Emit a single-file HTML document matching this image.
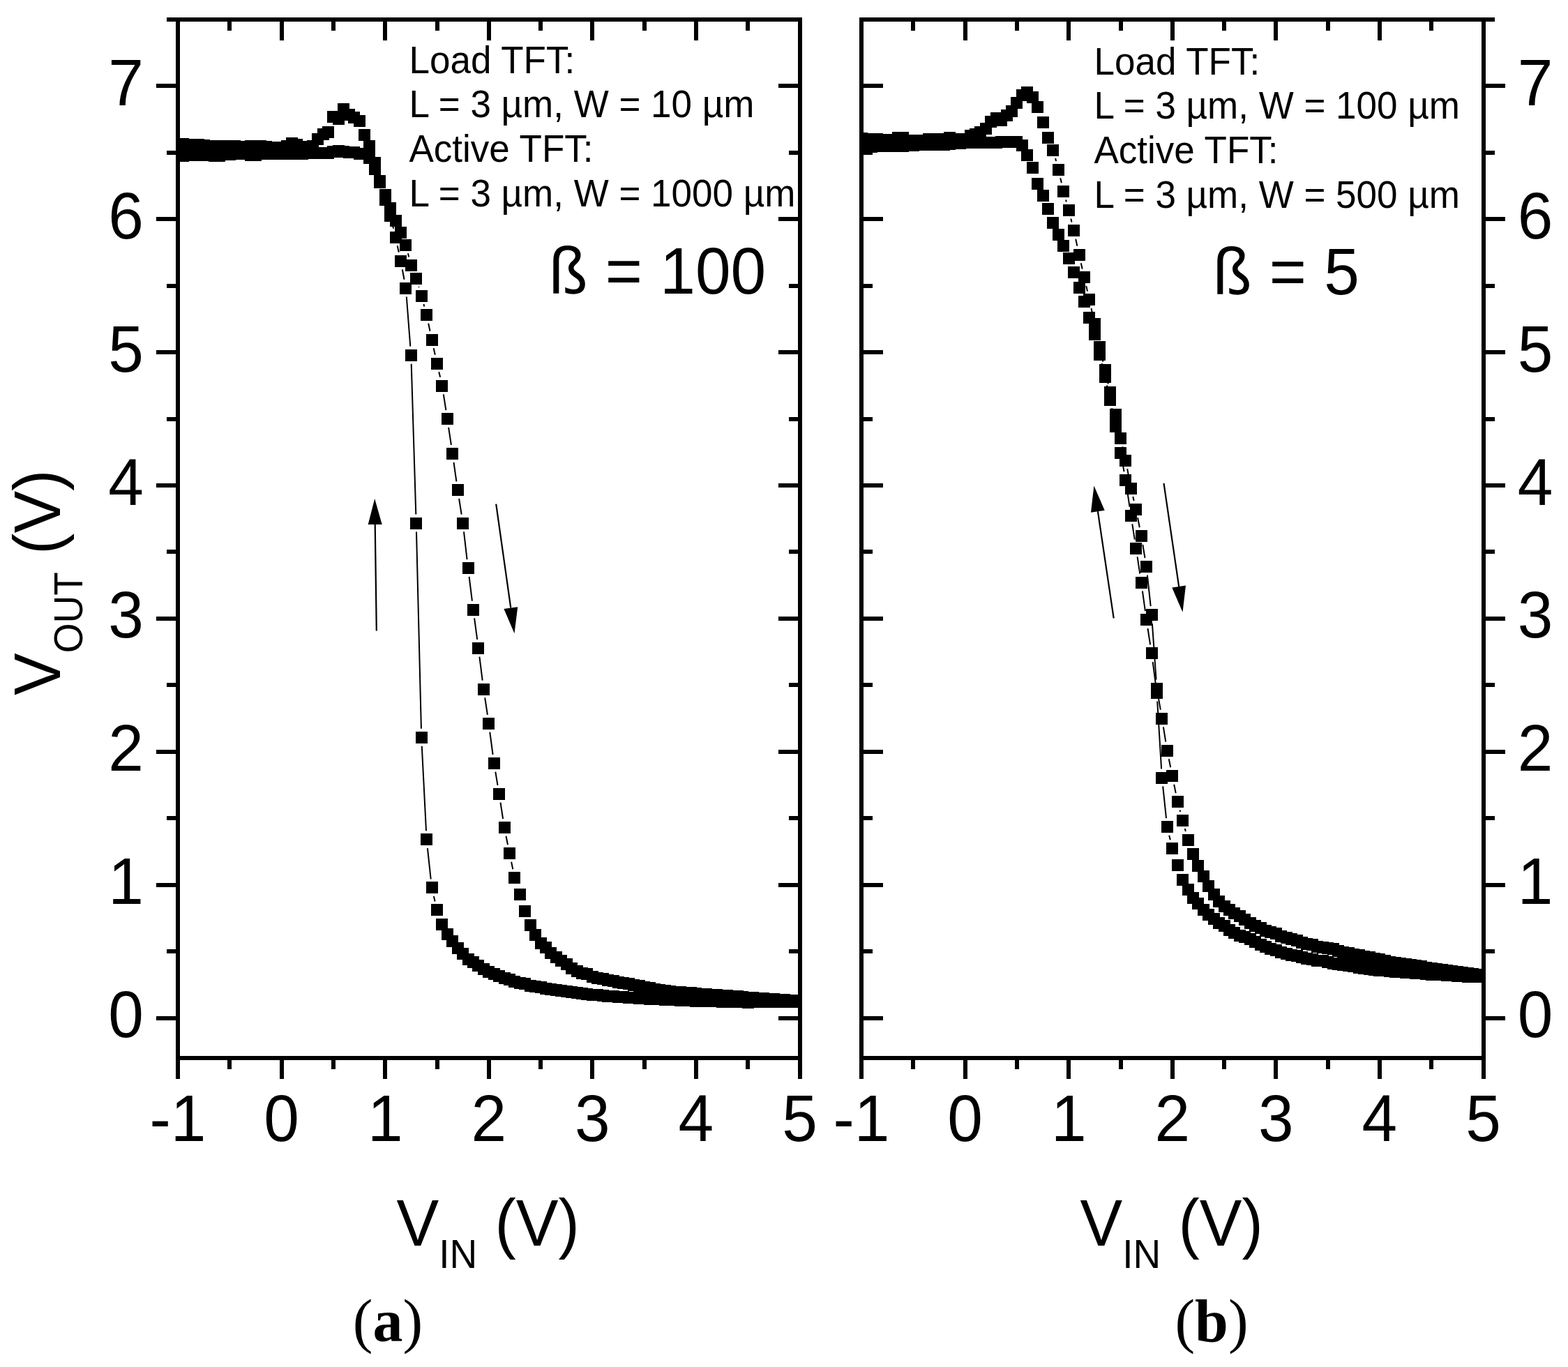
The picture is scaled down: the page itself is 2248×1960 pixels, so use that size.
<!DOCTYPE html>
<html><head><meta charset="utf-8"><title>VTC</title><style>html,body{margin:0;padding:0;background:#fff}svg{display:block}</style></head><body>
<svg width="2248" height="1960" viewBox="0 0 2248 1960">
<rect width="2248" height="1960" fill="#fff"/>
<clipPath id="clipa"><rect x="255.0" y="28" width="891.48" height="1489"/></clipPath>
<g clip-path="url(#clipa)">
<path d="M540.7 245.5L541.3 247.5M584.9 363.3L586.2 368.4M600.3 411.0L600.6 412.0M607.4 436.1L608.3 439.4M614.2 463.7L616.5 474.8M621.7 499.2L623.8 508.8M629.3 533.2L631.1 540.8M635.8 565.3L639.4 588.2M643.1 612.9L646.9 638.0M650.5 662.8L654.4 690.3M658.1 715.0L661.7 737.7M665.0 762.4L669.6 802.1M672.6 826.9L676.9 861.6M680.1 886.4L684.2 916.8M687.4 941.6L691.7 975.6M695.2 1000.4L698.9 1024.8M702.3 1049.6L706.6 1082.0M710.3 1106.7L713.5 1125.9M717.5 1150.6L721.1 1174.0M725.5 1198.7L728.0 1211.2M733.1 1235.7L735.3 1246.2" fill="none" stroke="#000" stroke-width="2"/>
<path d="M548.3 273.0L548.6 274.0M562.5 321.2L564.1 327.8M569.7 352.2L571.8 361.8M576.8 386.3L579.5 400.7M582.8 425.5L588.3 496.7M589.7 521.7L596.3 737.5M597.0 762.5L603.9 1044.8M604.8 1069.8L611.0 1191.2M612.9 1216.1L617.7 1260.5M621.9 1285.1L623.6 1292.4" fill="none" stroke="#000" stroke-width="2"/>
<path d="M246.5 197.7h17.0v17.0h-17.0zM253.9 197.5h17.0v17.0h-17.0zM261.4 198.5h17.0v17.0h-17.0zM268.8 199.3h17.0v17.0h-17.0zM276.2 199.3h17.0v17.0h-17.0zM283.6 200.0h17.0v17.0h-17.0zM291.1 201.3h17.0v17.0h-17.0zM298.5 201.3h17.0v17.0h-17.0zM305.9 201.3h17.0v17.0h-17.0zM313.4 201.3h17.0v17.0h-17.0zM320.8 201.3h17.0v17.0h-17.0zM328.2 201.3h17.0v17.0h-17.0zM335.6 202.2h17.0v17.0h-17.0zM343.1 202.0h17.0v17.0h-17.0zM350.5 201.3h17.0v17.0h-17.0zM357.9 201.3h17.0v17.0h-17.0zM365.4 201.3h17.0v17.0h-17.0zM372.8 202.0h17.0v17.0h-17.0zM380.2 204.3h17.0v17.0h-17.0zM387.7 203.3h17.0v17.0h-17.0zM395.1 203.3h17.0v17.0h-17.0zM402.5 200.5h17.0v17.0h-17.0zM409.9 197.2h17.0v17.0h-17.0zM417.4 199.3h17.0v17.0h-17.0zM424.8 203.2h17.0v17.0h-17.0zM432.2 202.0h17.0v17.0h-17.0zM439.7 201.0h17.0v17.0h-17.0zM447.1 191.0h17.0v17.0h-17.0zM454.5 184.1h17.0v17.0h-17.0zM461.9 181.0h17.0v17.0h-17.0zM469.4 159.1h17.0v17.0h-17.0zM476.8 161.8h17.0v17.0h-17.0zM484.2 148.0h17.0v17.0h-17.0zM491.7 155.5h17.0v17.0h-17.0zM499.1 159.8h17.0v17.0h-17.0zM506.5 164.8h17.0v17.0h-17.0zM513.9 184.9h17.0v17.0h-17.0zM521.4 201.1h17.0v17.0h-17.0zM528.8 225.0h17.0v17.0h-17.0zM536.2 251.0h17.0v17.0h-17.0zM543.7 271.0h17.0v17.0h-17.0zM551.1 289.8h17.0v17.0h-17.0zM558.5 307.9h17.0v17.0h-17.0zM565.9 324.9h17.0v17.0h-17.0zM573.4 342.7h17.0v17.0h-17.0zM580.8 372.0h17.0v17.0h-17.0zM588.2 390.5h17.0v17.0h-17.0zM595.7 415.5h17.0v17.0h-17.0zM603.1 443.0h17.0v17.0h-17.0zM610.5 478.5h17.0v17.0h-17.0zM618.0 512.5h17.0v17.0h-17.0zM625.4 544.5h17.0v17.0h-17.0zM632.8 592.0h17.0v17.0h-17.0zM640.2 641.9h17.0v17.0h-17.0zM647.7 694.2h17.0v17.0h-17.0zM655.1 741.5h17.0v17.0h-17.0zM662.5 806.0h17.0v17.0h-17.0zM670.0 865.5h17.0v17.0h-17.0zM677.4 920.7h17.0v17.0h-17.0zM684.8 979.5h17.0v17.0h-17.0zM692.2 1028.7h17.0v17.0h-17.0zM699.7 1085.9h17.0v17.0h-17.0zM707.1 1129.7h17.0v17.0h-17.0zM714.5 1177.9h17.0v17.0h-17.0zM722.0 1215.0h17.0v17.0h-17.0zM729.4 1249.9h17.0v17.0h-17.0zM736.8 1274.1h17.0v17.0h-17.0zM744.2 1297.9h17.0v17.0h-17.0zM751.7 1317.5h17.0v17.0h-17.0zM759.1 1332.3h17.0v17.0h-17.0zM766.5 1344.1h17.0v17.0h-17.0zM774.0 1350.1h17.0v17.0h-17.0zM781.4 1358.1h17.0v17.0h-17.0zM788.8 1363.9h17.0v17.0h-17.0zM796.2 1369.2h17.0v17.0h-17.0zM803.7 1374.1h17.0v17.0h-17.0zM811.1 1380.2h17.0v17.0h-17.0zM818.5 1384.1h17.0v17.0h-17.0zM826.0 1387.2h17.0v17.0h-17.0zM833.4 1388.1h17.0v17.0h-17.0zM840.8 1392.2h17.0v17.0h-17.0zM848.2 1394.0h17.0v17.0h-17.0zM855.7 1395.4h17.0v17.0h-17.0zM863.1 1396.8h17.0v17.0h-17.0zM870.5 1398.2h17.0v17.0h-17.0zM878.0 1399.6h17.0v17.0h-17.0zM885.4 1401.0h17.0v17.0h-17.0zM892.8 1402.4h17.0v17.0h-17.0zM900.3 1403.8h17.0v17.0h-17.0zM907.7 1405.3h17.0v17.0h-17.0zM915.1 1406.8h17.0v17.0h-17.0zM922.5 1408.2h17.0v17.0h-17.0zM930.0 1409.7h17.0v17.0h-17.0zM937.4 1411.1h17.0v17.0h-17.0zM944.8 1412.2h17.0v17.0h-17.0zM952.3 1412.9h17.0v17.0h-17.0zM959.7 1413.5h17.0v17.0h-17.0zM967.1 1414.1h17.0v17.0h-17.0zM974.5 1414.7h17.0v17.0h-17.0zM982.0 1415.3h17.0v17.0h-17.0zM989.4 1416.0h17.0v17.0h-17.0zM996.8 1416.5h17.0v17.0h-17.0zM1004.3 1417.1h17.0v17.0h-17.0zM1011.7 1417.6h17.0v17.0h-17.0zM1019.1 1418.2h17.0v17.0h-17.0zM1026.5 1418.7h17.0v17.0h-17.0zM1034.0 1419.3h17.0v17.0h-17.0zM1041.4 1419.8h17.0v17.0h-17.0zM1048.8 1420.4h17.0v17.0h-17.0zM1056.3 1420.9h17.0v17.0h-17.0zM1063.7 1421.5h17.0v17.0h-17.0zM1071.1 1422.0h17.0v17.0h-17.0zM1078.5 1422.5h17.0v17.0h-17.0zM1086.0 1423.0h17.0v17.0h-17.0zM1093.4 1423.5h17.0v17.0h-17.0zM1100.8 1424.0h17.0v17.0h-17.0zM1108.3 1424.5h17.0v17.0h-17.0zM1115.7 1425.0h17.0v17.0h-17.0zM1123.1 1425.5h17.0v17.0h-17.0zM1130.6 1426.0h17.0v17.0h-17.0zM1138.0 1426.5h17.0v17.0h-17.0z" fill="#000" shape-rendering="crispEdges"/>
<path d="M246.5 214.8h17.0v17.0h-17.0zM253.9 214.8h17.0v17.0h-17.0zM261.4 213.8h17.0v17.0h-17.0zM268.8 213.8h17.0v17.0h-17.0zM276.2 213.8h17.0v17.0h-17.0zM283.6 213.8h17.0v17.0h-17.0zM291.1 214.0h17.0v17.0h-17.0zM298.5 214.8h17.0v17.0h-17.0zM305.9 214.8h17.0v17.0h-17.0zM313.4 212.5h17.0v17.0h-17.0zM320.8 212.5h17.0v17.0h-17.0zM328.2 211.7h17.0v17.0h-17.0zM335.6 211.7h17.0v17.0h-17.0zM343.1 211.7h17.0v17.0h-17.0zM350.5 213.7h17.0v17.0h-17.0zM357.9 213.7h17.0v17.0h-17.0zM365.4 211.7h17.0v17.0h-17.0zM372.8 210.7h17.0v17.0h-17.0zM380.2 211.7h17.0v17.0h-17.0zM387.7 211.7h17.0v17.0h-17.0zM395.1 211.7h17.0v17.0h-17.0zM402.5 211.7h17.0v17.0h-17.0zM409.9 211.7h17.0v17.0h-17.0zM417.4 211.7h17.0v17.0h-17.0zM424.8 211.7h17.0v17.0h-17.0zM432.2 209.8h17.0v17.0h-17.0zM439.7 210.7h17.0v17.0h-17.0zM447.1 210.7h17.0v17.0h-17.0zM454.5 210.7h17.0v17.0h-17.0zM461.9 210.7h17.0v17.0h-17.0zM469.4 209.0h17.0v17.0h-17.0zM476.8 207.5h17.0v17.0h-17.0zM484.2 208.5h17.0v17.0h-17.0zM491.7 209.8h17.0v17.0h-17.0zM499.1 209.8h17.0v17.0h-17.0zM506.5 211.7h17.0v17.0h-17.0zM513.9 211.7h17.0v17.0h-17.0zM521.4 217.5h17.0v17.0h-17.0zM528.8 233.5h17.0v17.0h-17.0zM536.2 252.5h17.0v17.0h-17.0zM543.7 277.5h17.0v17.0h-17.0zM551.1 300.5h17.0v17.0h-17.0zM558.5 331.5h17.0v17.0h-17.0zM565.9 365.5h17.0v17.0h-17.0zM573.4 404.5h17.0v17.0h-17.0zM580.8 500.7h17.0v17.0h-17.0zM588.2 741.5h17.0v17.0h-17.0zM595.7 1048.8h17.0v17.0h-17.0zM603.1 1195.2h17.0v17.0h-17.0zM610.5 1264.4h17.0v17.0h-17.0zM618.0 1296.1h17.0v17.0h-17.0zM625.4 1316.5h17.0v17.0h-17.0zM632.8 1331.1h17.0v17.0h-17.0zM640.2 1341.0h17.0v17.0h-17.0zM647.7 1351.0h17.0v17.0h-17.0zM655.1 1359.1h17.0v17.0h-17.0zM662.5 1367.1h17.0v17.0h-17.0zM670.0 1371.2h17.0v17.0h-17.0zM677.4 1376.2h17.0v17.0h-17.0zM684.8 1381.1h17.0v17.0h-17.0zM692.2 1385.2h17.0v17.0h-17.0zM699.7 1388.1h17.0v17.0h-17.0zM707.1 1391.1h17.0v17.0h-17.0zM714.5 1394.2h17.0v17.0h-17.0zM722.0 1396.3h17.0v17.0h-17.0zM729.4 1399.2h17.0v17.0h-17.0zM736.8 1401.0h17.0v17.0h-17.0zM744.2 1402.4h17.0v17.0h-17.0zM751.7 1404.5h17.0v17.0h-17.0zM759.1 1405.9h17.0v17.0h-17.0zM766.5 1407.4h17.0v17.0h-17.0zM774.0 1408.7h17.0v17.0h-17.0zM781.4 1409.8h17.0v17.0h-17.0zM788.8 1410.9h17.0v17.0h-17.0zM796.2 1412.0h17.0v17.0h-17.0zM803.7 1413.0h17.0v17.0h-17.0zM811.1 1413.9h17.0v17.0h-17.0zM818.5 1414.9h17.0v17.0h-17.0zM826.0 1415.8h17.0v17.0h-17.0zM833.4 1416.8h17.0v17.0h-17.0zM840.8 1417.6h17.0v17.0h-17.0zM848.2 1418.2h17.0v17.0h-17.0zM855.7 1418.9h17.0v17.0h-17.0zM863.1 1419.5h17.0v17.0h-17.0zM870.5 1420.1h17.0v17.0h-17.0zM878.0 1420.7h17.0v17.0h-17.0zM885.4 1421.3h17.0v17.0h-17.0zM892.8 1421.9h17.0v17.0h-17.0zM900.3 1422.3h17.0v17.0h-17.0zM907.7 1422.7h17.0v17.0h-17.0zM915.1 1423.1h17.0v17.0h-17.0zM922.5 1423.5h17.0v17.0h-17.0zM930.0 1423.9h17.0v17.0h-17.0zM937.4 1424.3h17.0v17.0h-17.0zM944.8 1424.6h17.0v17.0h-17.0zM952.3 1425.0h17.0v17.0h-17.0zM959.7 1425.3h17.0v17.0h-17.0zM967.1 1425.7h17.0v17.0h-17.0zM974.5 1426.0h17.0v17.0h-17.0zM982.0 1426.3h17.0v17.0h-17.0zM989.4 1426.7h17.0v17.0h-17.0zM996.8 1426.9h17.0v17.0h-17.0zM1004.3 1427.1h17.0v17.0h-17.0zM1011.7 1427.3h17.0v17.0h-17.0zM1019.1 1427.4h17.0v17.0h-17.0zM1026.5 1427.6h17.0v17.0h-17.0zM1034.0 1427.8h17.0v17.0h-17.0zM1041.4 1428.0h17.0v17.0h-17.0zM1048.8 1428.1h17.0v17.0h-17.0zM1056.3 1428.3h17.0v17.0h-17.0zM1063.7 1428.5h17.0v17.0h-17.0zM1071.1 1428.4h17.0v17.0h-17.0zM1078.5 1428.3h17.0v17.0h-17.0zM1086.0 1428.2h17.0v17.0h-17.0zM1093.4 1428.1h17.0v17.0h-17.0zM1100.8 1428.0h17.0v17.0h-17.0zM1108.3 1427.9h17.0v17.0h-17.0zM1115.7 1427.8h17.0v17.0h-17.0zM1123.1 1427.7h17.0v17.0h-17.0zM1130.6 1427.6h17.0v17.0h-17.0zM1138.0 1427.5h17.0v17.0h-17.0z" fill="#000" shape-rendering="crispEdges"/>
</g>
<clipPath id="clipb"><rect x="1235.0" y="28" width="891.48" height="1489"/></clipPath>
<g clip-path="url(#clipb)">
<path d="M1513.1 227.1L1514.1 230.9M1520.2 255.2L1521.9 262.2M1528.0 286.5L1528.9 289.4M1535.3 313.6L1536.5 318.4M1542.2 342.7L1544.4 352.8M1549.8 377.2L1551.7 385.6M1557.3 410.0L1559.0 417.6M1564.5 442.0L1566.7 452.6M1572.1 477.0L1574.0 485.6M1579.5 510.0L1581.4 518.6M1587.0 543.0L1588.8 550.5M1594.5 574.9L1596.1 581.8M1601.7 606.2L1603.8 615.8M1609.3 640.2L1611.1 647.8M1616.2 672.3L1619.0 687.7M1624.3 712.1L1625.7 717.9M1631.1 742.3L1633.8 756.3M1638.3 780.9L1641.5 800.0M1644.9 824.7L1649.7 869.2M1651.9 894.1L1657.6 974.5M1660.6 999.3L1663.8 1017.7M1667.9 1042.3L1671.3 1063.7M1675.8 1088.2L1678.2 1100.3M1683.2 1124.8L1685.7 1137.1M1691.5 1161.4L1692.2 1164.0M1698.8 1188.1L1699.8 1191.9" fill="none" stroke="#000" stroke-width="2"/>
<path d="M1572.3 491.1L1573.7 496.6M1579.6 520.9L1581.3 528.1M1586.9 552.5L1588.8 560.8M1594.0 585.3L1596.7 599.2M1601.5 623.8L1604.0 636.7M1608.8 661.3L1611.6 676.3M1615.7 701.0L1619.5 726.6M1623.3 751.3L1626.8 773.7M1630.6 798.4L1634.3 822.6M1637.9 847.4L1641.9 876.2M1645.5 901.0L1649.1 924.3M1652.7 949.1L1656.8 980.6M1659.2 1005.5L1665.1 1102.5M1667.2 1127.4L1672.0 1173.1M1676.2 1197.7L1677.8 1204.2" fill="none" stroke="#000" stroke-width="2"/>
<path d="M1226.5 190.3h17.0v17.0h-17.0zM1233.9 190.5h17.0v17.0h-17.0zM1241.4 191.2h17.0v17.0h-17.0zM1248.8 191.2h17.0v17.0h-17.0zM1256.2 191.5h17.0v17.0h-17.0zM1263.6 192.2h17.0v17.0h-17.0zM1271.1 192.2h17.0v17.0h-17.0zM1278.5 189.2h17.0v17.0h-17.0zM1285.9 189.2h17.0v17.0h-17.0zM1293.4 194.2h17.0v17.0h-17.0zM1300.8 193.2h17.0v17.0h-17.0zM1308.2 193.2h17.0v17.0h-17.0zM1315.6 193.2h17.0v17.0h-17.0zM1323.1 191.2h17.0v17.0h-17.0zM1330.5 191.2h17.0v17.0h-17.0zM1337.9 191.2h17.0v17.0h-17.0zM1345.4 190.5h17.0v17.0h-17.0zM1352.8 189.2h17.0v17.0h-17.0zM1360.2 191.2h17.0v17.0h-17.0zM1367.7 191.2h17.0v17.0h-17.0zM1375.1 191.0h17.0v17.0h-17.0zM1382.5 186.3h17.0v17.0h-17.0zM1389.9 183.5h17.0v17.0h-17.0zM1397.4 181.2h17.0v17.0h-17.0zM1404.8 176.4h17.0v17.0h-17.0zM1412.2 166.2h17.0v17.0h-17.0zM1419.7 161.4h17.0v17.0h-17.0zM1427.1 163.5h17.0v17.0h-17.0zM1434.5 157.3h17.0v17.0h-17.0zM1441.9 151.4h17.0v17.0h-17.0zM1449.4 139.3h17.0v17.0h-17.0zM1456.8 128.4h17.0v17.0h-17.0zM1464.2 124.3h17.0v17.0h-17.0zM1471.7 131.4h17.0v17.0h-17.0zM1479.1 145.2h17.0v17.0h-17.0zM1486.5 167.4h17.0v17.0h-17.0zM1493.9 188.5h17.0v17.0h-17.0zM1501.4 206.5h17.0v17.0h-17.0zM1508.8 234.5h17.0v17.0h-17.0zM1516.2 265.9h17.0v17.0h-17.0zM1523.7 293.0h17.0v17.0h-17.0zM1531.1 322.0h17.0v17.0h-17.0zM1538.5 356.5h17.0v17.0h-17.0zM1545.9 389.3h17.0v17.0h-17.0zM1553.4 421.3h17.0v17.0h-17.0zM1560.8 456.3h17.0v17.0h-17.0zM1568.2 489.3h17.0v17.0h-17.0zM1575.7 522.3h17.0v17.0h-17.0zM1583.1 554.2h17.0v17.0h-17.0zM1590.5 585.5h17.0v17.0h-17.0zM1598.0 619.5h17.0v17.0h-17.0zM1605.4 651.5h17.0v17.0h-17.0zM1612.8 691.5h17.0v17.0h-17.0zM1620.2 721.5h17.0v17.0h-17.0zM1627.7 760.1h17.0v17.0h-17.0zM1635.1 803.8h17.0v17.0h-17.0zM1642.5 873.1h17.0v17.0h-17.0zM1650.0 978.5h17.0v17.0h-17.0zM1657.4 1021.5h17.0v17.0h-17.0zM1664.8 1067.5h17.0v17.0h-17.0zM1672.2 1104.0h17.0v17.0h-17.0zM1679.7 1140.9h17.0v17.0h-17.0zM1687.1 1167.5h17.0v17.0h-17.0zM1694.5 1195.5h17.0v17.0h-17.0zM1702.0 1215.5h17.0v17.0h-17.0zM1709.4 1233.3h17.0v17.0h-17.0zM1716.8 1248.1h17.0v17.0h-17.0zM1724.2 1262.4h17.0v17.0h-17.0zM1731.7 1274.3h17.0v17.0h-17.0zM1739.1 1284.2h17.0v17.0h-17.0zM1746.5 1291.4h17.0v17.0h-17.0zM1754.0 1296.3h17.0v17.0h-17.0zM1761.4 1301.3h17.0v17.0h-17.0zM1768.8 1305.2h17.0v17.0h-17.0zM1776.2 1310.3h17.0v17.0h-17.0zM1783.7 1315.3h17.0v17.0h-17.0zM1791.1 1319.3h17.0v17.0h-17.0zM1798.5 1322.3h17.0v17.0h-17.0zM1806.0 1326.2h17.0v17.0h-17.0zM1813.4 1328.2h17.0v17.0h-17.0zM1820.8 1330.3h17.0v17.0h-17.0zM1828.2 1334.3h17.0v17.0h-17.0zM1835.7 1336.1h17.0v17.0h-17.0zM1843.1 1338.1h17.0v17.0h-17.0zM1850.5 1340.2h17.0v17.0h-17.0zM1858.0 1343.1h17.0v17.0h-17.0zM1865.4 1345.1h17.0v17.0h-17.0zM1872.8 1346.3h17.0v17.0h-17.0zM1880.3 1349.3h17.0v17.0h-17.0zM1887.7 1350.3h17.0v17.0h-17.0zM1895.1 1351.2h17.0v17.0h-17.0zM1902.5 1352.1h17.0v17.0h-17.0zM1910.0 1354.7h17.0v17.0h-17.0zM1917.4 1356.5h17.0v17.0h-17.0zM1924.8 1358.1h17.0v17.0h-17.0zM1932.3 1359.6h17.0v17.0h-17.0zM1939.7 1361.2h17.0v17.0h-17.0zM1947.1 1362.7h17.0v17.0h-17.0zM1954.5 1364.3h17.0v17.0h-17.0zM1962.0 1365.9h17.0v17.0h-17.0zM1969.4 1367.4h17.0v17.0h-17.0zM1976.8 1369.0h17.0v17.0h-17.0zM1984.3 1370.5h17.0v17.0h-17.0zM1991.7 1372.1h17.0v17.0h-17.0zM1999.1 1373.2h17.0v17.0h-17.0zM2006.5 1374.2h17.0v17.0h-17.0zM2014.0 1375.3h17.0v17.0h-17.0zM2021.4 1376.3h17.0v17.0h-17.0zM2028.8 1377.4h17.0v17.0h-17.0zM2036.3 1378.5h17.0v17.0h-17.0zM2043.7 1379.5h17.0v17.0h-17.0zM2051.1 1380.5h17.0v17.0h-17.0zM2058.5 1381.6h17.0v17.0h-17.0zM2066.0 1382.6h17.0v17.0h-17.0zM2073.4 1383.6h17.0v17.0h-17.0zM2080.8 1384.7h17.0v17.0h-17.0zM2088.3 1385.7h17.0v17.0h-17.0zM2095.7 1386.8h17.0v17.0h-17.0zM2103.1 1388.0h17.0v17.0h-17.0zM2110.6 1389.3h17.0v17.0h-17.0zM2118.0 1390.5h17.0v17.0h-17.0z" fill="#000" shape-rendering="crispEdges"/>
<path d="M1226.5 203.8h17.0v17.0h-17.0zM1233.9 202.7h17.0v17.0h-17.0zM1241.4 201.7h17.0v17.0h-17.0zM1248.8 200.7h17.0v17.0h-17.0zM1256.2 200.7h17.0v17.0h-17.0zM1263.6 200.7h17.0v17.0h-17.0zM1271.1 200.7h17.0v17.0h-17.0zM1278.5 200.7h17.0v17.0h-17.0zM1285.9 200.7h17.0v17.0h-17.0zM1293.4 200.2h17.0v17.0h-17.0zM1300.8 199.7h17.0v17.0h-17.0zM1308.2 199.4h17.0v17.0h-17.0zM1315.6 199.1h17.0v17.0h-17.0zM1323.1 198.8h17.0v17.0h-17.0zM1330.5 198.8h17.0v17.0h-17.0zM1337.9 198.8h17.0v17.0h-17.0zM1345.4 198.8h17.0v17.0h-17.0zM1352.8 197.9h17.0v17.0h-17.0zM1360.2 197.0h17.0v17.0h-17.0zM1367.7 196.5h17.0v17.0h-17.0zM1375.1 196.0h17.0v17.0h-17.0zM1382.5 196.0h17.0v17.0h-17.0zM1389.9 196.0h17.0v17.0h-17.0zM1397.4 195.9h17.0v17.0h-17.0zM1404.8 195.8h17.0v17.0h-17.0zM1412.2 195.7h17.0v17.0h-17.0zM1419.7 195.5h17.0v17.0h-17.0zM1427.1 195.2h17.0v17.0h-17.0zM1434.5 195.0h17.0v17.0h-17.0zM1441.9 194.5h17.0v17.0h-17.0zM1449.4 194.5h17.0v17.0h-17.0zM1456.8 200.0h17.0v17.0h-17.0zM1464.2 213.5h17.0v17.0h-17.0zM1471.7 232.0h17.0v17.0h-17.0zM1479.1 254.9h17.0v17.0h-17.0zM1486.5 272.1h17.0v17.0h-17.0zM1493.9 290.5h17.0v17.0h-17.0zM1501.4 310.9h17.0v17.0h-17.0zM1508.8 328.3h17.0v17.0h-17.0zM1516.2 344.3h17.0v17.0h-17.0zM1523.7 361.9h17.0v17.0h-17.0zM1531.1 381.9h17.0v17.0h-17.0zM1538.5 404.3h17.0v17.0h-17.0zM1545.9 423.7h17.0v17.0h-17.0zM1553.4 447.3h17.0v17.0h-17.0zM1560.8 470.5h17.0v17.0h-17.0zM1568.2 500.2h17.0v17.0h-17.0zM1575.7 531.8h17.0v17.0h-17.0zM1583.1 564.5h17.0v17.0h-17.0zM1590.5 603.0h17.0v17.0h-17.0zM1598.0 640.5h17.0v17.0h-17.0zM1605.4 680.1h17.0v17.0h-17.0zM1612.8 730.5h17.0v17.0h-17.0zM1620.2 777.5h17.0v17.0h-17.0zM1627.7 826.5h17.0v17.0h-17.0zM1635.1 880.1h17.0v17.0h-17.0zM1642.5 928.2h17.0v17.0h-17.0zM1650.0 984.5h17.0v17.0h-17.0zM1657.4 1106.5h17.0v17.0h-17.0zM1664.8 1177.0h17.0v17.0h-17.0zM1672.2 1207.9h17.0v17.0h-17.0zM1679.7 1231.9h17.0v17.0h-17.0zM1687.1 1252.9h17.0v17.0h-17.0zM1694.5 1266.5h17.0v17.0h-17.0zM1702.0 1278.5h17.0v17.0h-17.0zM1709.4 1286.5h17.0v17.0h-17.0zM1716.8 1295.5h17.0v17.0h-17.0zM1724.2 1302.5h17.0v17.0h-17.0zM1731.7 1308.7h17.0v17.0h-17.0zM1739.1 1314.5h17.0v17.0h-17.0zM1746.5 1319.4h17.0v17.0h-17.0zM1754.0 1324.5h17.0v17.0h-17.0zM1761.4 1329.4h17.0v17.0h-17.0zM1768.8 1332.5h17.0v17.0h-17.0zM1776.2 1335.4h17.0v17.0h-17.0zM1783.7 1337.5h17.0v17.0h-17.0zM1791.1 1342.4h17.0v17.0h-17.0zM1798.5 1345.5h17.0v17.0h-17.0zM1806.0 1348.5h17.0v17.0h-17.0zM1813.4 1352.4h17.0v17.0h-17.0zM1820.8 1353.5h17.0v17.0h-17.0zM1828.2 1356.5h17.0v17.0h-17.0zM1835.7 1358.5h17.0v17.0h-17.0zM1843.1 1360.5h17.0v17.0h-17.0zM1850.5 1362.4h17.0v17.0h-17.0zM1858.0 1363.5h17.0v17.0h-17.0zM1865.4 1365.5h17.0v17.0h-17.0zM1872.8 1366.7h17.0v17.0h-17.0zM1880.3 1368.5h17.0v17.0h-17.0zM1887.7 1369.4h17.0v17.0h-17.0zM1895.1 1370.5h17.0v17.0h-17.0zM1902.5 1372.5h17.0v17.0h-17.0zM1910.0 1373.7h17.0v17.0h-17.0zM1917.4 1374.7h17.0v17.0h-17.0zM1924.8 1375.5h17.0v17.0h-17.0zM1932.3 1377.2h17.0v17.0h-17.0zM1939.7 1379.0h17.0v17.0h-17.0zM1947.1 1380.2h17.0v17.0h-17.0zM1954.5 1380.9h17.0v17.0h-17.0zM1962.0 1381.7h17.0v17.0h-17.0zM1969.4 1382.5h17.0v17.0h-17.0zM1976.8 1383.3h17.0v17.0h-17.0zM1984.3 1384.0h17.0v17.0h-17.0zM1991.7 1384.8h17.0v17.0h-17.0zM1999.1 1385.3h17.0v17.0h-17.0zM2006.5 1385.9h17.0v17.0h-17.0zM2014.0 1386.4h17.0v17.0h-17.0zM2021.4 1386.9h17.0v17.0h-17.0zM2028.8 1387.4h17.0v17.0h-17.0zM2036.3 1388.0h17.0v17.0h-17.0zM2043.7 1388.5h17.0v17.0h-17.0zM2051.1 1388.9h17.0v17.0h-17.0zM2058.5 1389.4h17.0v17.0h-17.0zM2066.0 1389.9h17.0v17.0h-17.0zM2073.4 1390.3h17.0v17.0h-17.0zM2080.8 1390.8h17.0v17.0h-17.0zM2088.3 1391.2h17.0v17.0h-17.0zM2095.7 1391.5h17.0v17.0h-17.0zM2103.1 1391.5h17.0v17.0h-17.0zM2110.6 1391.5h17.0v17.0h-17.0zM2118.0 1391.5h17.0v17.0h-17.0z" fill="#000" shape-rendering="crispEdges"/>
</g>
<line x1="539.8" y1="904.4" x2="537.7" y2="752.0" stroke="#000" stroke-width="2.2"/><path d="M537.2 715.0L547.7 751.9L527.7 752.1z" fill="#000"/>
<line x1="711.2" y1="722.7" x2="732.3" y2="871.6" stroke="#000" stroke-width="2.2"/><path d="M737.5 908.2L722.4 873.0L742.2 870.2z" fill="#000"/>
<line x1="1596.7" y1="886.3" x2="1573.9" y2="733.2" stroke="#000" stroke-width="2.2"/><path d="M1568.4 696.6L1583.7 731.7L1564.0 734.7z" fill="#000"/>
<line x1="1668.5" y1="692.9" x2="1690.2" y2="841.1" stroke="#000" stroke-width="2.2"/><path d="M1695.5 877.7L1680.3 842.5L1700.0 839.6z" fill="#000"/>
<g stroke="#000" fill="none" shape-rendering="crispEdges">
<rect x="255.0" y="27.8" width="891.5" height="1489.0" stroke-width="6"/>
<line x1="255.0" y1="1516.9" x2="255.0" y2="1547.4" stroke-width="6" stroke-linecap="butt"/>
<line x1="255.0" y1="27.8" x2="255.0" y2="58.3" stroke-width="6" stroke-linecap="butt"/>
<line x1="329.3" y1="1516.9" x2="329.3" y2="1532.9" stroke-width="6" stroke-linecap="butt"/>
<line x1="329.3" y1="27.8" x2="329.3" y2="43.8" stroke-width="6" stroke-linecap="butt"/>
<line x1="403.6" y1="1516.9" x2="403.6" y2="1547.4" stroke-width="6" stroke-linecap="butt"/>
<line x1="403.6" y1="27.8" x2="403.6" y2="58.3" stroke-width="6" stroke-linecap="butt"/>
<line x1="477.9" y1="1516.9" x2="477.9" y2="1532.9" stroke-width="6" stroke-linecap="butt"/>
<line x1="477.9" y1="27.8" x2="477.9" y2="43.8" stroke-width="6" stroke-linecap="butt"/>
<line x1="552.2" y1="1516.9" x2="552.2" y2="1547.4" stroke-width="6" stroke-linecap="butt"/>
<line x1="552.2" y1="27.8" x2="552.2" y2="58.3" stroke-width="6" stroke-linecap="butt"/>
<line x1="626.5" y1="1516.9" x2="626.5" y2="1532.9" stroke-width="6" stroke-linecap="butt"/>
<line x1="626.5" y1="27.8" x2="626.5" y2="43.8" stroke-width="6" stroke-linecap="butt"/>
<line x1="700.7" y1="1516.9" x2="700.7" y2="1547.4" stroke-width="6" stroke-linecap="butt"/>
<line x1="700.7" y1="27.8" x2="700.7" y2="58.3" stroke-width="6" stroke-linecap="butt"/>
<line x1="775.0" y1="1516.9" x2="775.0" y2="1532.9" stroke-width="6" stroke-linecap="butt"/>
<line x1="775.0" y1="27.8" x2="775.0" y2="43.8" stroke-width="6" stroke-linecap="butt"/>
<line x1="849.3" y1="1516.9" x2="849.3" y2="1547.4" stroke-width="6" stroke-linecap="butt"/>
<line x1="849.3" y1="27.8" x2="849.3" y2="58.3" stroke-width="6" stroke-linecap="butt"/>
<line x1="923.6" y1="1516.9" x2="923.6" y2="1532.9" stroke-width="6" stroke-linecap="butt"/>
<line x1="923.6" y1="27.8" x2="923.6" y2="43.8" stroke-width="6" stroke-linecap="butt"/>
<line x1="997.9" y1="1516.9" x2="997.9" y2="1547.4" stroke-width="6" stroke-linecap="butt"/>
<line x1="997.9" y1="27.8" x2="997.9" y2="58.3" stroke-width="6" stroke-linecap="butt"/>
<line x1="1072.2" y1="1516.9" x2="1072.2" y2="1532.9" stroke-width="6" stroke-linecap="butt"/>
<line x1="1072.2" y1="27.8" x2="1072.2" y2="43.8" stroke-width="6" stroke-linecap="butt"/>
<line x1="1146.5" y1="1516.9" x2="1146.5" y2="1547.4" stroke-width="6" stroke-linecap="butt"/>
<line x1="1146.5" y1="27.8" x2="1146.5" y2="58.3" stroke-width="6" stroke-linecap="butt"/>
<line x1="255.0" y1="1459.6" x2="224.0" y2="1459.6" stroke-width="6" stroke-linecap="butt"/>
<line x1="1146.5" y1="1459.6" x2="1115.5" y2="1459.6" stroke-width="6" stroke-linecap="butt"/>
<line x1="255.0" y1="1364.1" x2="239.0" y2="1364.1" stroke-width="6" stroke-linecap="butt"/>
<line x1="1146.5" y1="1364.1" x2="1130.5" y2="1364.1" stroke-width="6" stroke-linecap="butt"/>
<line x1="255.0" y1="1268.7" x2="224.0" y2="1268.7" stroke-width="6" stroke-linecap="butt"/>
<line x1="1146.5" y1="1268.7" x2="1115.5" y2="1268.7" stroke-width="6" stroke-linecap="butt"/>
<line x1="255.0" y1="1173.2" x2="239.0" y2="1173.2" stroke-width="6" stroke-linecap="butt"/>
<line x1="1146.5" y1="1173.2" x2="1130.5" y2="1173.2" stroke-width="6" stroke-linecap="butt"/>
<line x1="255.0" y1="1077.8" x2="224.0" y2="1077.8" stroke-width="6" stroke-linecap="butt"/>
<line x1="1146.5" y1="1077.8" x2="1115.5" y2="1077.8" stroke-width="6" stroke-linecap="butt"/>
<line x1="255.0" y1="982.3" x2="239.0" y2="982.3" stroke-width="6" stroke-linecap="butt"/>
<line x1="1146.5" y1="982.3" x2="1130.5" y2="982.3" stroke-width="6" stroke-linecap="butt"/>
<line x1="255.0" y1="886.9" x2="224.0" y2="886.9" stroke-width="6" stroke-linecap="butt"/>
<line x1="1146.5" y1="886.9" x2="1115.5" y2="886.9" stroke-width="6" stroke-linecap="butt"/>
<line x1="255.0" y1="791.4" x2="239.0" y2="791.4" stroke-width="6" stroke-linecap="butt"/>
<line x1="1146.5" y1="791.4" x2="1130.5" y2="791.4" stroke-width="6" stroke-linecap="butt"/>
<line x1="255.0" y1="696.0" x2="224.0" y2="696.0" stroke-width="6" stroke-linecap="butt"/>
<line x1="1146.5" y1="696.0" x2="1115.5" y2="696.0" stroke-width="6" stroke-linecap="butt"/>
<line x1="255.0" y1="600.5" x2="239.0" y2="600.5" stroke-width="6" stroke-linecap="butt"/>
<line x1="1146.5" y1="600.5" x2="1130.5" y2="600.5" stroke-width="6" stroke-linecap="butt"/>
<line x1="255.0" y1="505.1" x2="224.0" y2="505.1" stroke-width="6" stroke-linecap="butt"/>
<line x1="1146.5" y1="505.1" x2="1115.5" y2="505.1" stroke-width="6" stroke-linecap="butt"/>
<line x1="255.0" y1="409.6" x2="239.0" y2="409.6" stroke-width="6" stroke-linecap="butt"/>
<line x1="1146.5" y1="409.6" x2="1130.5" y2="409.6" stroke-width="6" stroke-linecap="butt"/>
<line x1="255.0" y1="314.2" x2="224.0" y2="314.2" stroke-width="6" stroke-linecap="butt"/>
<line x1="1146.5" y1="314.2" x2="1115.5" y2="314.2" stroke-width="6" stroke-linecap="butt"/>
<line x1="255.0" y1="218.7" x2="239.0" y2="218.7" stroke-width="6" stroke-linecap="butt"/>
<line x1="1146.5" y1="218.7" x2="1130.5" y2="218.7" stroke-width="6" stroke-linecap="butt"/>
<line x1="255.0" y1="123.3" x2="224.0" y2="123.3" stroke-width="6" stroke-linecap="butt"/>
<line x1="1146.5" y1="123.3" x2="1115.5" y2="123.3" stroke-width="6" stroke-linecap="butt"/>
<line x1="255.0" y1="27.8" x2="239.0" y2="27.8" stroke-width="6" stroke-linecap="butt"/>
<line x1="1146.5" y1="27.8" x2="1130.5" y2="27.8" stroke-width="6" stroke-linecap="butt"/>
</g>
<g stroke="#000" fill="none" shape-rendering="crispEdges">
<rect x="1235.0" y="27.8" width="891.5" height="1489.0" stroke-width="6"/>
<line x1="1235.0" y1="1516.9" x2="1235.0" y2="1547.4" stroke-width="6" stroke-linecap="butt"/>
<line x1="1235.0" y1="27.8" x2="1235.0" y2="58.3" stroke-width="6" stroke-linecap="butt"/>
<line x1="1309.3" y1="1516.9" x2="1309.3" y2="1532.9" stroke-width="6" stroke-linecap="butt"/>
<line x1="1309.3" y1="27.8" x2="1309.3" y2="43.8" stroke-width="6" stroke-linecap="butt"/>
<line x1="1383.6" y1="1516.9" x2="1383.6" y2="1547.4" stroke-width="6" stroke-linecap="butt"/>
<line x1="1383.6" y1="27.8" x2="1383.6" y2="58.3" stroke-width="6" stroke-linecap="butt"/>
<line x1="1457.9" y1="1516.9" x2="1457.9" y2="1532.9" stroke-width="6" stroke-linecap="butt"/>
<line x1="1457.9" y1="27.8" x2="1457.9" y2="43.8" stroke-width="6" stroke-linecap="butt"/>
<line x1="1532.2" y1="1516.9" x2="1532.2" y2="1547.4" stroke-width="6" stroke-linecap="butt"/>
<line x1="1532.2" y1="27.8" x2="1532.2" y2="58.3" stroke-width="6" stroke-linecap="butt"/>
<line x1="1606.5" y1="1516.9" x2="1606.5" y2="1532.9" stroke-width="6" stroke-linecap="butt"/>
<line x1="1606.5" y1="27.8" x2="1606.5" y2="43.8" stroke-width="6" stroke-linecap="butt"/>
<line x1="1680.7" y1="1516.9" x2="1680.7" y2="1547.4" stroke-width="6" stroke-linecap="butt"/>
<line x1="1680.7" y1="27.8" x2="1680.7" y2="58.3" stroke-width="6" stroke-linecap="butt"/>
<line x1="1755.0" y1="1516.9" x2="1755.0" y2="1532.9" stroke-width="6" stroke-linecap="butt"/>
<line x1="1755.0" y1="27.8" x2="1755.0" y2="43.8" stroke-width="6" stroke-linecap="butt"/>
<line x1="1829.3" y1="1516.9" x2="1829.3" y2="1547.4" stroke-width="6" stroke-linecap="butt"/>
<line x1="1829.3" y1="27.8" x2="1829.3" y2="58.3" stroke-width="6" stroke-linecap="butt"/>
<line x1="1903.6" y1="1516.9" x2="1903.6" y2="1532.9" stroke-width="6" stroke-linecap="butt"/>
<line x1="1903.6" y1="27.8" x2="1903.6" y2="43.8" stroke-width="6" stroke-linecap="butt"/>
<line x1="1977.9" y1="1516.9" x2="1977.9" y2="1547.4" stroke-width="6" stroke-linecap="butt"/>
<line x1="1977.9" y1="27.8" x2="1977.9" y2="58.3" stroke-width="6" stroke-linecap="butt"/>
<line x1="2052.2" y1="1516.9" x2="2052.2" y2="1532.9" stroke-width="6" stroke-linecap="butt"/>
<line x1="2052.2" y1="27.8" x2="2052.2" y2="43.8" stroke-width="6" stroke-linecap="butt"/>
<line x1="2126.5" y1="1516.9" x2="2126.5" y2="1547.4" stroke-width="6" stroke-linecap="butt"/>
<line x1="2126.5" y1="27.8" x2="2126.5" y2="58.3" stroke-width="6" stroke-linecap="butt"/>
<line x1="1235.0" y1="1459.6" x2="1266.0" y2="1459.6" stroke-width="6" stroke-linecap="butt"/>
<line x1="2126.5" y1="1459.6" x2="2157.5" y2="1459.6" stroke-width="6" stroke-linecap="butt"/>
<line x1="1235.0" y1="1364.1" x2="1251.0" y2="1364.1" stroke-width="6" stroke-linecap="butt"/>
<line x1="2126.5" y1="1364.1" x2="2142.5" y2="1364.1" stroke-width="6" stroke-linecap="butt"/>
<line x1="1235.0" y1="1268.7" x2="1266.0" y2="1268.7" stroke-width="6" stroke-linecap="butt"/>
<line x1="2126.5" y1="1268.7" x2="2157.5" y2="1268.7" stroke-width="6" stroke-linecap="butt"/>
<line x1="1235.0" y1="1173.2" x2="1251.0" y2="1173.2" stroke-width="6" stroke-linecap="butt"/>
<line x1="2126.5" y1="1173.2" x2="2142.5" y2="1173.2" stroke-width="6" stroke-linecap="butt"/>
<line x1="1235.0" y1="1077.8" x2="1266.0" y2="1077.8" stroke-width="6" stroke-linecap="butt"/>
<line x1="2126.5" y1="1077.8" x2="2157.5" y2="1077.8" stroke-width="6" stroke-linecap="butt"/>
<line x1="1235.0" y1="982.3" x2="1251.0" y2="982.3" stroke-width="6" stroke-linecap="butt"/>
<line x1="2126.5" y1="982.3" x2="2142.5" y2="982.3" stroke-width="6" stroke-linecap="butt"/>
<line x1="1235.0" y1="886.9" x2="1266.0" y2="886.9" stroke-width="6" stroke-linecap="butt"/>
<line x1="2126.5" y1="886.9" x2="2157.5" y2="886.9" stroke-width="6" stroke-linecap="butt"/>
<line x1="1235.0" y1="791.4" x2="1251.0" y2="791.4" stroke-width="6" stroke-linecap="butt"/>
<line x1="2126.5" y1="791.4" x2="2142.5" y2="791.4" stroke-width="6" stroke-linecap="butt"/>
<line x1="1235.0" y1="696.0" x2="1266.0" y2="696.0" stroke-width="6" stroke-linecap="butt"/>
<line x1="2126.5" y1="696.0" x2="2157.5" y2="696.0" stroke-width="6" stroke-linecap="butt"/>
<line x1="1235.0" y1="600.5" x2="1251.0" y2="600.5" stroke-width="6" stroke-linecap="butt"/>
<line x1="2126.5" y1="600.5" x2="2142.5" y2="600.5" stroke-width="6" stroke-linecap="butt"/>
<line x1="1235.0" y1="505.1" x2="1266.0" y2="505.1" stroke-width="6" stroke-linecap="butt"/>
<line x1="2126.5" y1="505.1" x2="2157.5" y2="505.1" stroke-width="6" stroke-linecap="butt"/>
<line x1="1235.0" y1="409.6" x2="1251.0" y2="409.6" stroke-width="6" stroke-linecap="butt"/>
<line x1="2126.5" y1="409.6" x2="2142.5" y2="409.6" stroke-width="6" stroke-linecap="butt"/>
<line x1="1235.0" y1="314.2" x2="1266.0" y2="314.2" stroke-width="6" stroke-linecap="butt"/>
<line x1="2126.5" y1="314.2" x2="2157.5" y2="314.2" stroke-width="6" stroke-linecap="butt"/>
<line x1="1235.0" y1="218.7" x2="1251.0" y2="218.7" stroke-width="6" stroke-linecap="butt"/>
<line x1="2126.5" y1="218.7" x2="2142.5" y2="218.7" stroke-width="6" stroke-linecap="butt"/>
<line x1="1235.0" y1="123.3" x2="1266.0" y2="123.3" stroke-width="6" stroke-linecap="butt"/>
<line x1="2126.5" y1="123.3" x2="2157.5" y2="123.3" stroke-width="6" stroke-linecap="butt"/>
<line x1="1235.0" y1="27.8" x2="1251.0" y2="27.8" stroke-width="6" stroke-linecap="butt"/>
<line x1="2126.5" y1="27.8" x2="2142.5" y2="27.8" stroke-width="6" stroke-linecap="butt"/>
</g>
<text x="0" y="0" transform="translate(255.0,1636.0) scale(1,1.04)" font-size="91" text-anchor="middle" style="font-family:'Liberation Sans',Arial,sans-serif" >-1</text>
<text x="0" y="0" transform="translate(403.6,1636.0) scale(1,1.04)" font-size="91" text-anchor="middle" style="font-family:'Liberation Sans',Arial,sans-serif" >0</text>
<text x="0" y="0" transform="translate(552.2,1636.0) scale(1,1.04)" font-size="91" text-anchor="middle" style="font-family:'Liberation Sans',Arial,sans-serif" >1</text>
<text x="0" y="0" transform="translate(700.7,1636.0) scale(1,1.04)" font-size="91" text-anchor="middle" style="font-family:'Liberation Sans',Arial,sans-serif" >2</text>
<text x="0" y="0" transform="translate(849.3,1636.0) scale(1,1.04)" font-size="91" text-anchor="middle" style="font-family:'Liberation Sans',Arial,sans-serif" >3</text>
<text x="0" y="0" transform="translate(997.9,1636.0) scale(1,1.04)" font-size="91" text-anchor="middle" style="font-family:'Liberation Sans',Arial,sans-serif" >4</text>
<text x="0" y="0" transform="translate(1146.5,1636.0) scale(1,1.04)" font-size="91" text-anchor="middle" style="font-family:'Liberation Sans',Arial,sans-serif" >5</text>
<text x="0" y="0" transform="translate(180.5,1487.1) scale(1,1.04)" font-size="91" text-anchor="middle" style="font-family:'Liberation Sans',Arial,sans-serif" >0</text>
<text x="0" y="0" transform="translate(180.5,1296.2) scale(1,1.04)" font-size="91" text-anchor="middle" style="font-family:'Liberation Sans',Arial,sans-serif" >1</text>
<text x="0" y="0" transform="translate(180.5,1105.3) scale(1,1.04)" font-size="91" text-anchor="middle" style="font-family:'Liberation Sans',Arial,sans-serif" >2</text>
<text x="0" y="0" transform="translate(180.5,914.4) scale(1,1.04)" font-size="91" text-anchor="middle" style="font-family:'Liberation Sans',Arial,sans-serif" >3</text>
<text x="0" y="0" transform="translate(180.5,723.5) scale(1,1.04)" font-size="91" text-anchor="middle" style="font-family:'Liberation Sans',Arial,sans-serif" >4</text>
<text x="0" y="0" transform="translate(180.5,532.6) scale(1,1.04)" font-size="91" text-anchor="middle" style="font-family:'Liberation Sans',Arial,sans-serif" >5</text>
<text x="0" y="0" transform="translate(180.5,341.7) scale(1,1.04)" font-size="91" text-anchor="middle" style="font-family:'Liberation Sans',Arial,sans-serif" >6</text>
<text x="0" y="0" transform="translate(180.5,150.8) scale(1,1.04)" font-size="91" text-anchor="middle" style="font-family:'Liberation Sans',Arial,sans-serif" >7</text>
<text x="0" y="0" transform="translate(1235.0,1636.0) scale(1,1.04)" font-size="91" text-anchor="middle" style="font-family:'Liberation Sans',Arial,sans-serif" >-1</text>
<text x="0" y="0" transform="translate(1383.6,1636.0) scale(1,1.04)" font-size="91" text-anchor="middle" style="font-family:'Liberation Sans',Arial,sans-serif" >0</text>
<text x="0" y="0" transform="translate(1532.2,1636.0) scale(1,1.04)" font-size="91" text-anchor="middle" style="font-family:'Liberation Sans',Arial,sans-serif" >1</text>
<text x="0" y="0" transform="translate(1680.7,1636.0) scale(1,1.04)" font-size="91" text-anchor="middle" style="font-family:'Liberation Sans',Arial,sans-serif" >2</text>
<text x="0" y="0" transform="translate(1829.3,1636.0) scale(1,1.04)" font-size="91" text-anchor="middle" style="font-family:'Liberation Sans',Arial,sans-serif" >3</text>
<text x="0" y="0" transform="translate(1977.9,1636.0) scale(1,1.04)" font-size="91" text-anchor="middle" style="font-family:'Liberation Sans',Arial,sans-serif" >4</text>
<text x="0" y="0" transform="translate(2126.5,1636.0) scale(1,1.04)" font-size="91" text-anchor="middle" style="font-family:'Liberation Sans',Arial,sans-serif" >5</text>
<text x="0" y="0" transform="translate(2201.0,1487.1) scale(1,1.04)" font-size="91" text-anchor="middle" style="font-family:'Liberation Sans',Arial,sans-serif" >0</text>
<text x="0" y="0" transform="translate(2201.0,1296.2) scale(1,1.04)" font-size="91" text-anchor="middle" style="font-family:'Liberation Sans',Arial,sans-serif" >1</text>
<text x="0" y="0" transform="translate(2201.0,1105.3) scale(1,1.04)" font-size="91" text-anchor="middle" style="font-family:'Liberation Sans',Arial,sans-serif" >2</text>
<text x="0" y="0" transform="translate(2201.0,914.4) scale(1,1.04)" font-size="91" text-anchor="middle" style="font-family:'Liberation Sans',Arial,sans-serif" >3</text>
<text x="0" y="0" transform="translate(2201.0,723.5) scale(1,1.04)" font-size="91" text-anchor="middle" style="font-family:'Liberation Sans',Arial,sans-serif" >4</text>
<text x="0" y="0" transform="translate(2201.0,532.6) scale(1,1.04)" font-size="91" text-anchor="middle" style="font-family:'Liberation Sans',Arial,sans-serif" >5</text>
<text x="0" y="0" transform="translate(2201.0,341.7) scale(1,1.04)" font-size="91" text-anchor="middle" style="font-family:'Liberation Sans',Arial,sans-serif" >6</text>
<text x="0" y="0" transform="translate(2201.0,150.8) scale(1,1.04)" font-size="91" text-anchor="middle" style="font-family:'Liberation Sans',Arial,sans-serif" >7</text>
<text transform="translate(568.5,1786) scale(1,1.04)" font-size="91" style="font-family:'Liberation Sans',Arial,sans-serif">V<tspan font-size="55" dy="31">IN</tspan><tspan dy="-31"> (V)</tspan></text>
<text transform="translate(1548.5,1786) scale(1,1.04)" font-size="91" style="font-family:'Liberation Sans',Arial,sans-serif">V<tspan font-size="55" dy="31">IN</tspan><tspan dy="-31"> (V)</tspan></text>
<text transform="translate(85.7,997) rotate(-90) scale(1,1.04)" font-size="91" style="font-family:'Liberation Sans',Arial,sans-serif">V<tspan font-size="55" dy="31">OUT</tspan><tspan dy="-31"> (V)</tspan></text>
<text x="0" y="0" transform="translate(586.5,105.0) scale(1,1.04)" font-size="53" text-anchor="start" style="font-family:'Liberation Sans',Arial,sans-serif" >Load TFT:</text>
<text x="0" y="0" transform="translate(586.5,168.0) scale(1,1.04)" font-size="53" text-anchor="start" style="font-family:'Liberation Sans',Arial,sans-serif" >L = 3 µm, W = 10 µm</text>
<text x="0" y="0" transform="translate(586.5,232.0) scale(1,1.04)" font-size="53" text-anchor="start" style="font-family:'Liberation Sans',Arial,sans-serif" >Active TFT:</text>
<text x="0" y="0" transform="translate(586.5,296.0) scale(1,1.04)" font-size="53" text-anchor="start" style="font-family:'Liberation Sans',Arial,sans-serif" >L = 3 µm, W = 1000 µm</text>
<text x="0" y="0" transform="translate(1568.5,106.5) scale(1,1.04)" font-size="53" text-anchor="start" style="font-family:'Liberation Sans',Arial,sans-serif" >Load TFT:</text>
<text x="0" y="0" transform="translate(1568.5,170.0) scale(1,1.04)" font-size="53" text-anchor="start" style="font-family:'Liberation Sans',Arial,sans-serif" >L = 3 µm, W = 100 µm</text>
<text x="0" y="0" transform="translate(1568.5,234.0) scale(1,1.04)" font-size="53" text-anchor="start" style="font-family:'Liberation Sans',Arial,sans-serif" >Active TFT:</text>
<text x="0" y="0" transform="translate(1568.5,298.0) scale(1,1.04)" font-size="53" text-anchor="start" style="font-family:'Liberation Sans',Arial,sans-serif" >L = 3 µm, W = 500 µm</text>
<text x="0" y="0" transform="translate(787.0,421.0) scale(1,1.04)" font-size="91" text-anchor="start" style="font-family:'Liberation Sans',Arial,sans-serif" >ß = 100</text>
<text x="0" y="0" transform="translate(1739.0,422.0) scale(1,1.04)" font-size="91" text-anchor="start" style="font-family:'Liberation Sans',Arial,sans-serif" >ß = 5</text>
<text x="556" y="1923" font-size="86" text-anchor="middle" style="font-family:'Liberation Serif','Times New Roman',serif">(<tspan font-weight="bold">a</tspan>)</text>
<text x="1737" y="1923" font-size="86" text-anchor="middle" style="font-family:'Liberation Serif','Times New Roman',serif">(<tspan font-weight="bold">b</tspan>)</text>
</svg>
</body></html>
